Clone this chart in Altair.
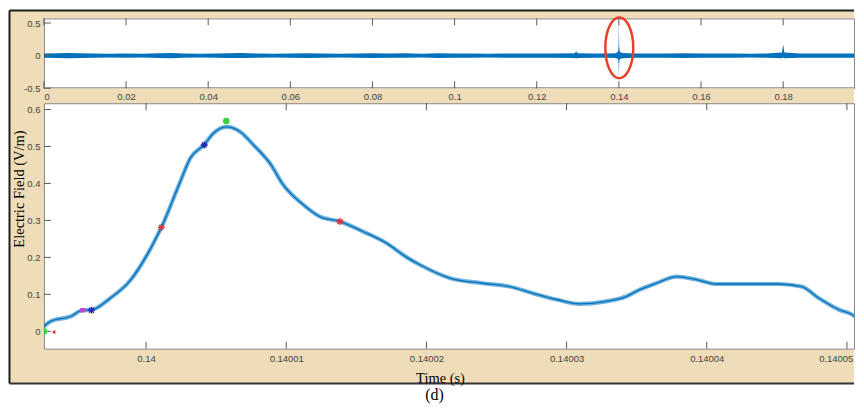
import altair as alt
import pandas as pd

# ---------------- overview trace (envelope of the noisy record) ----------------
top_t = [0.000, 0.003, 0.006, 0.009, 0.012, 0.016, 0.020, 0.024, 0.028, 0.031,
         0.034, 0.038, 0.042, 0.045, 0.048, 0.052, 0.056, 0.060, 0.064, 0.068,
         0.072, 0.076, 0.080, 0.084, 0.088, 0.092, 0.096, 0.100, 0.104, 0.108,
         0.112, 0.116, 0.120, 0.124, 0.1292, 0.1296, 0.1300, 0.1340, 0.1370, 0.1392,
         0.1398, 0.13993, 0.1400, 0.14007, 0.1402, 0.1408, 0.144, 0.148, 0.152, 0.156,
         0.160, 0.164, 0.168, 0.172, 0.176, 0.1797, 0.1800, 0.1803, 0.184, 0.188,
         0.192, 0.196, 0.1995]
top_hi = [0.032, 0.036, 0.042, 0.038, 0.033, 0.030, 0.032, 0.030, 0.038, 0.040,
          0.034, 0.030, 0.032, 0.036, 0.040, 0.033, 0.030, 0.032, 0.036, 0.031,
          0.030, 0.034, 0.038, 0.031, 0.035, 0.030, 0.037, 0.034, 0.031, 0.030,
          0.032, 0.031, 0.031, 0.033, 0.036, 0.065, 0.036, 0.032, 0.034, 0.036,
          0.060, 0.150, 0.550, 0.150, 0.060, 0.040, 0.034, 0.031, 0.033, 0.036,
          0.031, 0.034, 0.031, 0.030, 0.034, 0.050, 0.170, 0.050, 0.034, 0.031,
          0.034, 0.031, 0.031]
top_lo = [-0.032, -0.036, -0.040, -0.038, -0.032, -0.030, -0.031, -0.030, -0.038, -0.040,
          -0.034, -0.030, -0.031, -0.035, -0.038, -0.032, -0.030, -0.031, -0.035, -0.031,
          -0.030, -0.034, -0.036, -0.031, -0.034, -0.030, -0.036, -0.034, -0.031, -0.030,
          -0.032, -0.031, -0.031, -0.032, -0.035, -0.045, -0.035, -0.032, -0.034, -0.036,
          -0.050, -0.120, -0.340, -0.120, -0.050, -0.040, -0.034, -0.031, -0.033, -0.035,
          -0.031, -0.034, -0.031, -0.030, -0.034, -0.040, -0.030, -0.040, -0.034, -0.031,
          -0.034, -0.031, -0.031]

# highlighted pulse (ellipse annotation) in the overview
ring_t = [0.1401]
ring_v = [0.12]

# ---------------- zoomed pulse (time in microseconds after 0.14 s) ----------------
zoom_us = [-7.29, -6.81, -5.39, -4.53, -3.89, -2.54, -1.12, 0.09, 0.88, 1.09,
           2.44, 3.15, 4.15, 4.79, 5.72, 6.71, 7.64, 8.85, 9.77, 11.20,
           12.41, 13.83, 15.47, 17.17, 18.60, 19.53, 21.66, 24.01, 25.93, 27.57,
           29.27, 30.91, 32.83, 34.25, 35.18, 36.39, 37.88, 39.25, 40.67, 42.79,
           45.15, 46.77, 47.98, 49.40, 50.33, 51.07]
zoom_v = [0.013, 0.027, 0.040, 0.057, 0.058, 0.090, 0.138, 0.208, 0.265, 0.281,
          0.405, 0.468, 0.505, 0.535, 0.553, 0.540, 0.505, 0.454, 0.397, 0.343,
          0.310, 0.297, 0.270, 0.238, 0.200, 0.180, 0.144, 0.130, 0.121, 0.103,
          0.086, 0.074, 0.081, 0.094, 0.112, 0.130, 0.148, 0.140, 0.128, 0.128,
          0.128, 0.121, 0.090, 0.059, 0.046, 0.025]

mk_us = [-7.29, 5.72, -3.89, 4.15, 1.09, 13.83, -4.53, -6.60]
mk_v = [0.000, 0.569, 0.057, 0.504, 0.281, 0.297, 0.057, -0.002]
mk_kind = ["peak", "peak", "blue", "blue", "red", "red", "magenta", "arrow"]

# axis ticks
top_x_ticks = [0, 0.02, 0.04, 0.06, 0.08, 0.1, 0.12, 0.14, 0.16, 0.18]
top_y_ticks = [-0.5, 0, 0.5]
bot_x_ticks = [0.14, 0.14001, 0.14002, 0.14003, 0.14004, 0.14005]
bot_y_ticks = [0, 0.1, 0.2, 0.3, 0.4, 0.5, 0.6]

# ---------------- styling ----------------
W = 812
H_TOP = 70
H_BOT = 246
TAN = "#EFDDB9"
BLUE = "#0072BD"
AXC = "#5a5a5a"
BORDER = "#1e1e1e"

top_df = pd.DataFrame({"t": top_t, "lo": top_lo, "hi": top_hi})
ring_df = pd.DataFrame({"t": ring_t, "v": ring_v})
zoom_df = pd.DataFrame({"t": [0.14 + u * 1e-6 for u in zoom_us], "v": zoom_v})
mk_df = pd.DataFrame({"t": [0.14 + u * 1e-6 for u in mk_us], "v": mk_v, "kind": mk_kind})
one = pd.DataFrame({"k": [0]})

xs_top = alt.Scale(domain=[0, 0.19725], nice=False, zero=False)
ys_top = alt.Scale(domain=[-0.5, 0.57], nice=False, zero=False)
xs_bot = alt.Scale(domain=[0.14 - 7.288e-6, 0.14 + 50.506e-6], nice=False, zero=False)
ys_bot = alt.Scale(domain=[-0.047, 0.617], nice=False, zero=False)

LBL = "'' + datum.value"

ax_top_x = alt.Axis(values=top_x_ticks, labelExpr=LBL, labelPadding=3, ticks=False, tickSize=0,
                    domain=False, grid=False, title=None, zindex=1)
ax_top_y = alt.Axis(values=top_y_ticks, labelExpr=LBL, labelPadding=4, ticks=False, tickSize=0,
                    domain=False, grid=False, title=None, zindex=1)
ax_bot_x = alt.Axis(values=bot_x_ticks, labelExpr=LBL, labelPadding=5, ticks=False, tickSize=0,
                    domain=False, grid=False, title="Time (s)", titleX=397, titleY=34,
                    titleBaseline="alphabetic", titleAlign="center", zindex=1,
                    labelAlign={"condition": {"test": "datum.value > 0.1400495", "value": "right"},
                                "value": "center"},
                    labelOffset={"condition": {"test": "datum.value > 0.1400495", "value": 6},
                                 "value": 0})
ax_bot_y = alt.Axis(values=bot_y_ticks, labelExpr=LBL, labelPadding=4, ticks=False, tickSize=0,
                    domain=False, grid=False, title="Electric Field (V/m)", titleX=-20.5,
                    titleY=85.5, titleAngle=270, titleBaseline="alphabetic",
                    titleAlign="center", zindex=1)

TX = alt.X("t:Q", scale=xs_top, axis=ax_top_x)
BX = alt.X("t:Q", scale=xs_bot, axis=ax_bot_x)

# ---- top panel (also carries the tan figure frame) ----
tan = alt.Chart(one).mark_rect(fill=TAN).encode(
    x=alt.value(-34.5), x2=alt.value(W), y=alt.value(-8), y2=alt.value(366))
b_top = alt.Chart(one).mark_rule(color=BORDER, strokeWidth=2).encode(
    x=alt.value(-34.5), x2=alt.value(W), y=alt.value(-8))
b_left = alt.Chart(one).mark_rule(color=BORDER, strokeWidth=2).encode(
    x=alt.value(-34.5), y=alt.value(-8), y2=alt.value(366))
b_bot = alt.Chart(one).mark_rule(color="#333333", strokeWidth=2).encode(
    x=alt.value(-34.5), x2=alt.value(W), y=alt.value(366))
white_top = alt.Chart(one).mark_rect(fill="white").encode(
    x=alt.value(0), x2=alt.value(W), y=alt.value(0), y2=alt.value(H_TOP))
edge_top = alt.Chart(one).mark_rule(color="#888888").encode(
    x=alt.value(0), x2=alt.value(W), y=alt.value(0.5))
edge_bot = alt.Chart(one).mark_rule(color="#888888").encode(
    x=alt.value(0), x2=alt.value(W), y=alt.value(H_TOP - 0.5))
edge_left = alt.Chart(one).mark_rule(color="#888888").encode(
    x=alt.value(0.5), y=alt.value(0), y2=alt.value(H_TOP))

band = alt.Chart(top_df).mark_area(color=BLUE, opacity=1, clip=True).encode(
    x=TX, y=alt.Y("lo:Q", scale=ys_top, axis=ax_top_y), y2="hi:Q")

txt_df = pd.DataFrame({"t": top_x_ticks})
tyt_df = pd.DataFrame({"v": top_y_ticks})
tick_top_up = alt.Chart(txt_df).mark_rule(color=AXC).encode(x=TX, y=alt.value(0), y2=alt.value(7))
tick_top_dn = alt.Chart(txt_df).mark_rule(color=AXC).encode(x=TX, y=alt.value(H_TOP - 7), y2=alt.value(H_TOP))
tick_top_l = alt.Chart(tyt_df).mark_rule(color=AXC).encode(
    y=alt.Y("v:Q", scale=ys_top, axis=ax_top_y), x=alt.value(0), x2=alt.value(7))

ELLIPSE = ("M0,-1C0.2535,-1,0.459,-0.5523,0.459,0C0.459,0.5523,0.2535,1,0,1"
           "C-0.2535,1,-0.459,0.5523,-0.459,0C-0.459,-0.5523,-0.2535,-1,0,-1Z")
ring = alt.Chart(ring_df).mark_point(shape=ELLIPSE, filled=False, size=3721, color="#E8402A",
                                     strokeWidth=2.5, opacity=1).encode(
    x=TX, y=alt.Y("v:Q", scale=ys_top, axis=ax_top_y))

top = alt.layer(tan, b_top, b_left, b_bot, white_top, edge_top, edge_bot, edge_left, band,
                tick_top_up, tick_top_dn, tick_top_l, ring
                ).properties(width=W, height=H_TOP)

# ---- bottom panel ----
BY = alt.Y("v:Q", scale=ys_bot, axis=ax_bot_y)
halo = alt.Chart(zoom_df).mark_line(color=BLUE, strokeWidth=4.2, opacity=0.55, clip=True,
                                    interpolate="monotone").encode(x=BX, y=BY)
core = alt.Chart(zoom_df).mark_line(color=BLUE, strokeWidth=1.3, clip=True,
                                    interpolate="monotone").encode(x=BX, y=BY)

STAR = "M-1,0L1,0M0,-1L0,1M-0.7,-0.7L0.7,0.7M-0.7,0.7L0.7,-0.7"
pk = alt.Chart(mk_df).transform_filter("datum.kind == 'peak'").mark_point(
    shape="circle", filled=True, size=45, color="#3DD23D", opacity=1, clip=True).encode(x=BX, y=BY)
bs = alt.Chart(mk_df).transform_filter("datum.kind == 'blue'").mark_point(
    shape=STAR, filled=False, size=50, color="#2626B8", strokeWidth=1.3, opacity=1, clip=True).encode(x=BX, y=BY)
rs = alt.Chart(mk_df).transform_filter("datum.kind == 'red'").mark_point(
    shape=STAR, filled=False, size=50, color="#E0353A", strokeWidth=1.3, opacity=1, clip=True).encode(x=BX, y=BY)
ms = alt.Chart(mk_df).transform_filter("datum.kind == 'magenta'").mark_point(
    shape="square", filled=True, size=22, color="#D040D0", opacity=1, clip=True).encode(x=BX, y=BY)
ar = alt.Chart(mk_df).transform_filter("datum.kind == 'arrow'").mark_point(
    shape="triangle-left", filled=True, size=18, color="#D03030", opacity=1, clip=True).encode(x=BX, y=BY)

bxt_df = pd.DataFrame({"t": bot_x_ticks})
byt_df = pd.DataFrame({"v": bot_y_ticks})
tick_b_up = alt.Chart(bxt_df).mark_rule(color=AXC).encode(x=BX, y=alt.value(0), y2=alt.value(7))
tick_b_dn = alt.Chart(bxt_df).mark_rule(color=AXC).encode(x=BX, y=alt.value(H_BOT - 7), y2=alt.value(H_BOT))
tick_b_l = alt.Chart(byt_df).mark_rule(color=AXC).encode(y=BY, x=alt.value(0), x2=alt.value(7))

label_d = alt.Chart(one).mark_text(text="(d)", font="Liberation Serif", fontSize=16,
                                   color="black", align="center", baseline="alphabetic").encode(
    x=alt.value(391.5), y=alt.value(297))

bottom = alt.layer(halo, core, tick_b_up, tick_b_dn, tick_b_l,
                   ar, ms, bs, rs, pk, label_d).properties(width=W, height=H_BOT)

chart = alt.vconcat(top, bottom, spacing=15, bounds="flush").properties(
    padding=0, background="white"
).configure_view(fill="white", stroke="#888888", strokeWidth=1).configure_axis(
    labelFont="Liberation Sans", labelFontSize=9.5, labelColor="#444444",
    titleFont="Liberation Serif", titleFontSize=14.5, titleFontWeight="normal", titleColor="black"
)

chart.save("out.html", embed_options={"renderer": "svg", "actions": False})
